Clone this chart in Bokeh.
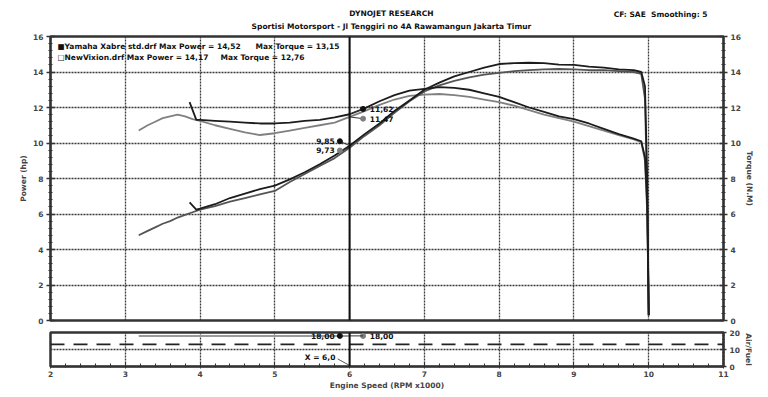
from bokeh.plotting import figure
from bokeh.models import Range1d, LinearAxis, Span, Label, FixedTicker
from bokeh.layouts import column
from bokeh.embed import file_html
from bokeh.resources import INLINE

FONT = "DejaVu Sans"
FS = "7.5px"

# ---------------- data ----------------
rpm_xabre = [3.86, 3.95, 4.0, 4.2, 4.4, 4.6, 4.8, 5.0, 5.2, 5.4, 5.6, 5.8, 6.0,
             6.2, 6.4, 6.6, 6.8, 7.0, 7.2, 7.4, 7.6, 7.8, 8.0, 8.2, 8.4, 8.6,
             8.8, 9.0, 9.2, 9.4, 9.6, 9.8, 9.9, 9.95, 9.98, 10.0]
power_xabre = [6.65, 6.25, 6.3, 6.55, 6.9, 7.15, 7.4, 7.6, 7.95, 8.35, 8.8, 9.3, 9.85,
               10.5, 11.1, 11.8, 12.4, 13.0, 13.4, 13.75, 14.0, 14.25, 14.45, 14.5, 14.52, 14.5,
               14.42, 14.4, 14.3, 14.25, 14.15, 14.1, 14.0, 13.2, 8.0, 0.3]
torque_xabre = [12.3, 11.3, 11.3, 11.25, 11.2, 11.15, 11.1, 11.1, 11.15, 11.25, 11.3, 11.45, 11.62,
                11.95, 12.35, 12.7, 12.95, 13.05, 13.15, 13.1, 13.0, 12.8, 12.6, 12.3, 12.0, 11.75,
                11.5, 11.35, 11.1, 10.8, 10.5, 10.25, 10.1, 9.2, 6.5, 0.3]

rpm_vixion = [3.18, 3.3, 3.4, 3.5, 3.6, 3.7, 3.8, 3.9, 4.0, 4.2, 4.4, 4.6, 4.8, 5.0,
              5.2, 5.4, 5.6, 5.8, 6.0, 6.2, 6.4, 6.6, 6.8, 7.0, 7.2, 7.4, 7.6, 7.8,
              8.0, 8.2, 8.4, 8.6, 8.8, 9.0, 9.2, 9.4, 9.6, 9.8, 9.9, 9.95, 9.98, 10.0]
power_vixion = [4.8, 5.05, 5.25, 5.45, 5.6, 5.8, 5.95, 6.1, 6.25, 6.45, 6.7, 6.9, 7.1, 7.3,
                7.8, 8.25, 8.7, 9.15, 9.73, 10.4, 11.0, 11.7, 12.35, 12.9, 13.25, 13.5, 13.7, 13.85,
                13.95, 14.05, 14.1, 14.15, 14.17, 14.15, 14.1, 14.1, 14.05, 14.0, 13.9, 12.5, 7.0, 0.3]
torque_vixion = [10.7, 11.0, 11.2, 11.4, 11.5, 11.6, 11.5, 11.35, 11.25, 11.0, 10.8, 10.6, 10.45, 10.55,
                 10.7, 10.85, 11.0, 11.15, 11.47, 11.8, 12.15, 12.45, 12.65, 12.72, 12.76, 12.7, 12.6, 12.45,
                 12.3, 12.1, 11.85, 11.6, 11.4, 11.2, 10.95, 10.7, 10.45, 10.2, 10.05, 9.0, 6.0, 0.3]

af_rpm = [3.18, 3.6, 4.0, 4.5, 5.0, 5.5, 6.0]
af_vixion = [18.0, 18.0, 18.0, 18.0, 18.0, 18.0, 18.0]
af_target = 13.0

cursor_rpm = 6.0
cursor_torque = [11.62, 11.47]
cursor_power = [9.85, 9.73]
cursor_af = 18.00

x_ticks = [2, 3, 4, 5, 6, 7, 8, 9, 10, 11]
y_ticks = [0, 2, 4, 6, 8, 10, 12, 14, 16]
af_ticks = [0, 10, 20]

DARK = "#1c1c1c"
GRAY = "#808080"
GRID = "#3a3a3a"
W = 760
LB, RB = 50, 37


def lab(fig, x, y, text, units="data", align="left", size=FS, baseline="middle", color="#111111"):
    fig.add_layout(Label(x=x, y=y, x_units=units, y_units=units, text=text,
                         text_font=FONT, text_font_style="bold", text_font_size=size,
                         text_align=align, text_baseline=baseline, text_color=color))


# ---------------- header strip (data units = pixels) ----------------
t = figure(width=W, height=31, x_range=Range1d(0, W), y_range=Range1d(0, 31),
           output_backend="svg", toolbar_location=None,
           x_axis_location=None, y_axis_location=None,
           min_border=0, min_border_left=0, min_border_right=0,
           min_border_top=0, min_border_bottom=0)
t.grid.visible = False
t.outline_line_color = None
lab(t, 385, 18, "DYNOJET RESEARCH", align="center")
lab(t, 385, 5, "Sportisi Motorsport - Jl Tenggiri no 4A Rawamangun Jakarta Timur", align="center")
lab(t, 742, 17, "CF: SAE\u00a0 Smoothing: 5", align="right")

# ---------------- main panel ----------------
p = figure(width=W, height=296, x_range=Range1d(2, 11), y_range=Range1d(0, 16),
           output_backend="svg", toolbar_location=None,
           min_border_left=LB, min_border_right=RB, min_border_top=5, min_border_bottom=7)
p.xaxis.visible = False
p.outline_line_color = "#333333"
p.outline_line_width = 2.5

p.xgrid.ticker = FixedTicker(ticks=[3, 4, 5, 6, 7, 8, 9, 10])
p.ygrid.ticker = FixedTicker(ticks=[2, 4, 6, 8, 10, 12, 14])
for g in (p.xgrid, p.ygrid):
    g.grid_line_color = GRID
    g.grid_line_dash = "2 1"
    g.grid_line_width = 1.3


def style_axis(ax, label, ticks, minor):
    ax.ticker = FixedTicker(ticks=ticks, minor_ticks=minor)
    ax.axis_label = label
    ax.axis_label_text_font = FONT
    ax.axis_label_text_font_style = "bold"
    ax.axis_label_text_font_size = FS
    ax.axis_label_standoff = 3
    ax.major_label_text_font = FONT
    ax.major_label_text_font_style = "bold"
    ax.major_label_text_font_size = FS
    ax.major_label_standoff = 3
    ax.axis_line_color = "#333333"
    ax.axis_line_width = 1.5
    ax.major_tick_in = 4
    ax.major_tick_out = 4
    ax.minor_tick_in = 2
    ax.minor_tick_out = 2
    ax.major_tick_line_color = "#333333"
    ax.minor_tick_line_color = "#333333"
    ax.major_tick_line_width = 1.5


main_minor = [t_ / 10 for t_ in range(0, 161, 4)]
style_axis(p.yaxis[0], "Power (hp)", y_ticks, main_minor)
p.yaxis[0].axis_label_standoff = 2
rax = LinearAxis()
p.add_layout(rax, "right")
style_axis(rax, "Torque (N.M)", y_ticks, main_minor)
rax.axis_label_standoff = 1

p.line(rpm_vixion, torque_vixion, line_color=GRAY, line_width=1.8)
p.line(rpm_vixion, power_vixion, line_color="#555555", line_width=1.8)
p.line(rpm_xabre, torque_xabre, line_color=DARK, line_width=1.8)
p.line(rpm_xabre, power_xabre, line_color=DARK, line_width=1.8)

p.add_layout(Span(location=cursor_rpm, dimension="height", line_color="#111111", line_width=2))

# legend rows (screen units measured from the frame's bottom-left)
lab(p, 7, 274, "\u25a0Yamaha Xabre std.drf Max Power = 14,52", units="screen")
lab(p, 7, 263, "\u25a1NewVixion.drf Max Power = 14,17", units="screen")
lab(p, 205, 274, "Max Torque = 13,15", units="screen")
lab(p, 170, 263, "Max Torque = 12,76", units="screen")

# cursor readouts
t_lab_y = [cursor_torque[0] + 0.3, cursor_torque[1] - 0.1]
p.segment(x0=[cursor_rpm, cursor_rpm], y0=cursor_torque, x1=[6.18, 6.18], y1=t_lab_y,
          line_color="#333333", line_width=1)
p.scatter(x=[6.18, 6.18], y=t_lab_y, size=5, color=["#111111", GRAY])
lab(p, 6.27, t_lab_y[0], "11,62")
lab(p, 6.27, t_lab_y[1], "11,47")

p_lab_y = [cursor_power[0] + 0.25, cursor_power[1] - 0.15]
p.segment(x0=[cursor_rpm, cursor_rpm], y0=cursor_power, x1=[5.87, 5.87], y1=p_lab_y,
          line_color="#333333", line_width=1)
p.scatter(x=[5.87, 5.87], y=p_lab_y, size=5, color=["#111111", GRAY])
lab(p, 5.80, p_lab_y[0], "9,85", align="right")
lab(p, 5.80, p_lab_y[1], "9,73", align="right")

# ---------------- air/fuel panel ----------------
q = figure(width=W, height=65, x_range=p.x_range, y_range=Range1d(0, 20),
           output_backend="svg", toolbar_location=None,
           min_border_left=LB, min_border_right=RB, min_border_top=5, min_border_bottom=22)
q.yaxis.visible = False
q.outline_line_color = "#333333"
q.outline_line_width = 2.5
q.xgrid.ticker = FixedTicker(ticks=[3, 4, 5, 6, 7, 8, 9, 10])
q.ygrid.ticker = FixedTicker(ticks=[10])
for g in (q.xgrid, q.ygrid):
    g.grid_line_color = GRID
    g.grid_line_dash = "2 1"
    g.grid_line_width = 1.3

xa = q.xaxis[0]
xa.ticker = FixedTicker(ticks=x_ticks, minor_ticks=[t_ / 10 for t_ in range(20, 111, 2)])
xa.axis_label = "Engine Speed (RPM x1000)"
xa.axis_label_text_font = FONT
xa.axis_label_text_font_style = "bold"
xa.axis_label_text_font_size = FS
xa.axis_label_standoff = 1
xa.major_label_text_font = FONT
xa.major_label_text_font_style = "bold"
xa.major_label_text_font_size = FS
xa.major_label_standoff = 2
xa.axis_line_color = "#333333"
xa.axis_line_width = 1.5
xa.major_tick_in = 4
xa.major_tick_out = 2
xa.minor_tick_in = 3
xa.minor_tick_out = 1
xa.major_tick_line_color = "#333333"
xa.minor_tick_line_color = "#333333"

ra = LinearAxis()
q.add_layout(ra, "right")
style_axis(ra, "Air/Fuel", af_ticks, [2, 4, 6, 8, 12, 14, 16, 18])
ra.major_tick_in = 3
ra.major_tick_out = 3
ra.minor_tick_in = 1
ra.minor_tick_out = 1
ra.axis_label_standoff = 1

q.add_layout(Span(location=af_target, dimension="width", line_color="#222222",
                  line_width=1.6, line_dash="14 9"))
q.line(af_rpm, af_vixion, line_color="#9a9a9a", line_width=2)
q.add_layout(Span(location=cursor_rpm, dimension="height", line_color="#111111", line_width=2))

q.scatter(x=[5.87, 6.18], y=[cursor_af, cursor_af], size=5, color=["#111111", GRAY])
q.segment(x0=[cursor_rpm], y0=[cursor_af], x1=[6.18], y1=[cursor_af], line_color="#333333", line_width=1)
lab(q, 5.80, cursor_af, "18,00", align="right")
lab(q, 6.27, cursor_af, "18,00")
lab(q, 5.81, 5.5, "X = 6,0", align="right")
q.segment(x0=[5.84], y0=[4.5], x1=[cursor_rpm], y1=[0.6], line_color="#555555", line_width=1)

layout = column(t, p, q, spacing=0)
open("out.html", "w").write(file_html(layout, INLINE))
